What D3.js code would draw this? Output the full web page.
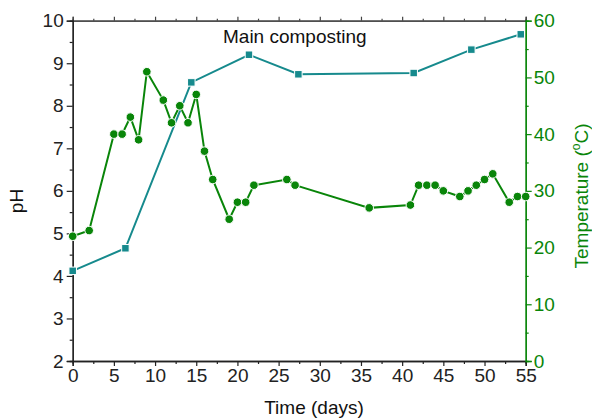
<!DOCTYPE html>
<html>
<head>
<meta charset="utf-8">
<script src="https://cdn.jsdelivr.net/npm/d3@7"></script>
<style>
  html, body { margin: 0; padding: 0; background: #fff; }
  svg { display: block; font-family: "Liberation Sans", Arial, sans-serif; }
</style>
</head>
<body>
<svg id="chart" width="592" height="419"></svg>
<script>
// pH of the pile (left axis)
const phDays = [0, 6.4, 14.4, 21.4, 27.4, 41.4, 48.4, 54.4];
const phValues = [4.12, 4.65, 8.55, 9.2, 8.74, 8.77, 9.32, 9.68];

// Pile temperature in °C (right axis)
const tempDays = [0, 2, 5, 6, 7, 8, 9, 11, 12, 13, 14, 15, 16, 17, 19, 20, 21, 22, 26, 27,
                  36, 41, 42, 43, 44, 45, 47, 48, 49, 50, 51, 53, 54, 55];
const tempValues = [22, 23, 40, 40, 43, 39, 51, 46, 42, 45, 42, 47, 37, 32, 25, 28, 28, 31, 32, 31,
                    27, 27.5, 31, 31, 31, 30, 29, 30, 31, 32, 33, 28, 29, 29];

const xTicks = [0, 5, 10, 15, 20, 25, 30, 35, 40, 45, 50, 55];
const phTicks = [2, 3, 4, 5, 6, 7, 8, 9, 10];
const tempTicks = [0, 10, 20, 30, 40, 50, 60];

const teal = "#168a8d";
const green = "#098509";

const svg = d3.select("#chart");
const m = { left: 72.7, right: 525.7, top: 20.7, bottom: 361 };

const x = d3.scaleLinear().domain([0, 55]).range([m.left, m.right]);
const yPh = d3.scaleLinear().domain([2, 10]).range([m.bottom, m.top]);
const yT = d3.scaleLinear().domain([0, 60]).range([m.bottom, m.top]);

const fontSize = 19;

function styleAxis(g, color) {
  g.select(".domain").attr("stroke", color).attr("stroke-width", 1.3);
  g.selectAll(".tick line").attr("stroke", color).attr("stroke-width", 1.2);
  g.selectAll(".tick text").attr("fill", color)
    .attr("font-size", fontSize).attr("font-family", "Liberation Sans, Arial, sans-serif");
}

// minor ticks
const xMinor = d3.range(2.5, 55, 5);
const phMinor = d3.range(2.5, 10, 1);
const tMinor = d3.range(5, 60, 10);

// bottom axis
const gxm = svg.append("g").attr("transform", `translate(0,${m.bottom})`)
  .call(d3.axisBottom(x).tickValues(xMinor).tickSize(3).tickFormat(""));
styleAxis(gxm, "#222");
const gx = svg.append("g").attr("transform", `translate(0,${m.bottom})`)
  .call(d3.axisBottom(x).tickValues(xTicks).tickSize(5).tickPadding(3).tickFormat(d3.format("d")));
styleAxis(gx, "#222");

// top axis (ticks only)
const gtm = svg.append("g").attr("transform", `translate(0,${m.top})`)
  .call(d3.axisTop(x).tickValues(xMinor).tickSize(2).tickFormat(""));
styleAxis(gtm, "#444");
const gt = svg.append("g").attr("transform", `translate(0,${m.top})`)
  .call(d3.axisTop(x).tickValues(xTicks).tickSize(4).tickFormat(""));
styleAxis(gt, "#444");

// left axis (pH)
const gym = svg.append("g").attr("transform", `translate(${m.left},0)`)
  .call(d3.axisLeft(yPh).tickValues(phMinor).tickSize(3).tickFormat(""));
styleAxis(gym, "#222");
const gy = svg.append("g").attr("transform", `translate(${m.left},0)`)
  .call(d3.axisLeft(yPh).tickValues(phTicks).tickSize(6).tickPadding(3).tickFormat(d3.format("d")));
styleAxis(gy, "#222");

// right axis (temperature)
const grm = svg.append("g").attr("transform", `translate(${m.right},0)`)
  .call(d3.axisRight(yT).tickValues(tMinor).tickSize(3).tickFormat(""));
styleAxis(grm, green);
const gr = svg.append("g").attr("transform", `translate(${m.right},0)`)
  .call(d3.axisRight(yT).tickValues(tempTicks).tickSize(6).tickPadding(2).tickFormat(d3.format("d")));
styleAxis(gr, green);

// axis titles
svg.append("text").attr("x", 314).attr("y", 414).attr("text-anchor", "middle")
  .attr("font-size", fontSize).attr("fill", "#111").text("Time (days)");

svg.append("text")
  .attr("transform", `translate(23,${201}) rotate(-90)`)
  .attr("text-anchor", "middle").attr("font-size", fontSize).attr("fill", "#111").text("pH");

const tLabel = svg.append("text")
  .attr("transform", `translate(588,${196}) rotate(-90)`)
  .attr("text-anchor", "middle").attr("font-size", fontSize).attr("fill", green);
tLabel.append("tspan").text("Temperature (");
tLabel.append("tspan").attr("font-size", 12).attr("dy", -8).text("o");
tLabel.append("tspan").attr("dy", 8).text("C)");

// panel title
svg.append("text").attr("x", 223).attr("y", 43).attr("font-size", fontSize)
  .attr("fill", "#111").text("Main composting");

// pH series
const phData = phDays.map((d, i) => ({ x: d, y: phValues[i] }));
svg.append("path").datum(phData)
  .attr("fill", "none").attr("stroke", teal).attr("stroke-width", 2)
  .attr("d", d3.line().x(d => x(d.x)).y(d => yPh(d.y)));
const sq = 7.5;
svg.append("g").selectAll("rect").data(phData).join("rect")
  .attr("x", d => x(d.x) - sq / 2).attr("y", d => yPh(d.y) - sq / 2)
  .attr("width", sq).attr("height", sq)
  .attr("fill", teal).attr("stroke", "#fff").attr("stroke-width", 1);

// temperature series
const tData = tempDays.map((d, i) => ({ x: d, y: tempValues[i] }));
svg.append("path").datum(tData)
  .attr("fill", "none").attr("stroke", green).attr("stroke-width", 2)
  .attr("d", d3.line().x(d => x(d.x)).y(d => yT(d.y)));
svg.append("g").selectAll("circle").data(tData).join("circle")
  .attr("cx", d => x(d.x)).attr("cy", d => yT(d.y)).attr("r", 4.3)
  .attr("fill", green).attr("stroke", "#fff").attr("stroke-width", 1);
</script>
</body>
</html>
